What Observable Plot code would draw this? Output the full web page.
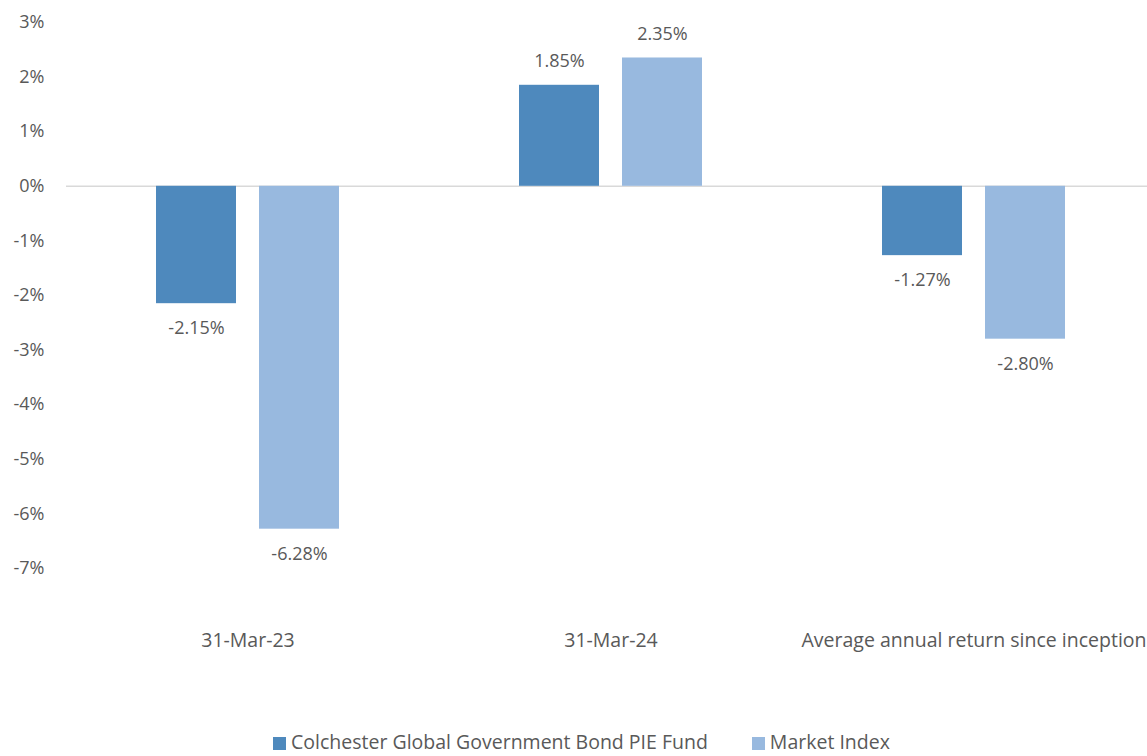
<!DOCTYPE html>
<html><head><meta charset="utf-8">
<script src="https://cdn.jsdelivr.net/npm/d3@7"></script>
<script src="https://cdn.jsdelivr.net/npm/@observablehq/plot@0.6"></script>
<style>
body{margin:0;background:#fff;font-family:"Open Sans",sans-serif;}
#legend{display:flex;justify-content:center;gap:44px;font-size:19.5px;line-height:20px;color:#595959;margin-top:7px;padding-left:16px}
#legend span.sw{display:inline-block;width:13px;height:13px;margin-right:5px;vertical-align:-1px}
</style></head><body>
<div id="chart"></div>
<div id="legend"></div>
<script>
const categories = ["31-Mar-23", "31-Mar-24", "Average annual return since inception"];
const seriesNames = ["Colchester Global Government Bond PIE Fund", "Market Index"];
const fundValues = [-2.15, 1.85, -1.27];
const indexValues = [-6.28, 2.35, -2.80];
const yTicks = [3, 2, 1, 0, -1, -2, -3, -4, -5, -6, -7];
const colors = ["#4e89bd", "#98b9df"];

const data = [];
categories.forEach((c, i) => {
  data.push({cat: c, series: seriesNames[0], value: fundValues[i]});
  data.push({cat: c, series: seriesNames[1], value: indexValues[i]});
});
const fmt = d => d.value.toFixed(2) + "%";
const txtStyle = {fontSize: 18, fill: "#595959"};

const plot = Plot.plot({
  width: 1147,
  height: 725,
  marginTop: 22,
  marginBottom: 157,
  marginLeft: 66,
  marginRight: -8,
  style: {fontFamily: "Open Sans, sans-serif", color: "#595959", background: "#fff", overflow: "visible"},
  fx: {domain: categories, padding: 0, label: null},
  x: {domain: seriesNames, paddingInner: 0.221, paddingOuter: 0.856, axis: null, label: null},
  y: {domain: [-7, 3], label: null},
  color: {domain: seriesNames, range: colors},
  marks: [
    Plot.axisY(yTicks, {tickSize: 0, tickPadding: 22, tickFormat: d => d + "%", ...txtStyle}),
    Plot.axisFx({anchor: "bottom", tickSize: 0, tickPadding: 65, label: null, fontSize: 19.5, fill: "#595959"}),
    Plot.ruleY([0], {stroke: "#d9d9d9", strokeWidth: 1.5}),
    Plot.barY(data, {fx: "cat", x: "series", y: "value", fill: "series"}),
    Plot.text(data.filter(d => d.value >= 0), {fx: "cat", x: "series", y: "value", text: fmt, dy: -24, ...txtStyle}),
    Plot.text(data.filter(d => d.value < 0), {fx: "cat", x: "series", y: "value", text: fmt, dy: 25, ...txtStyle})
  ]
});
document.getElementById("chart").appendChild(plot);

const legend = document.getElementById("legend");
seriesNames.forEach((s, i) => {
  const item = document.createElement("div");
  item.innerHTML = `<span class="sw" style="background:${colors[i]}"></span>${s}`;
  legend.appendChild(item);
});
</script>
</body></html>
